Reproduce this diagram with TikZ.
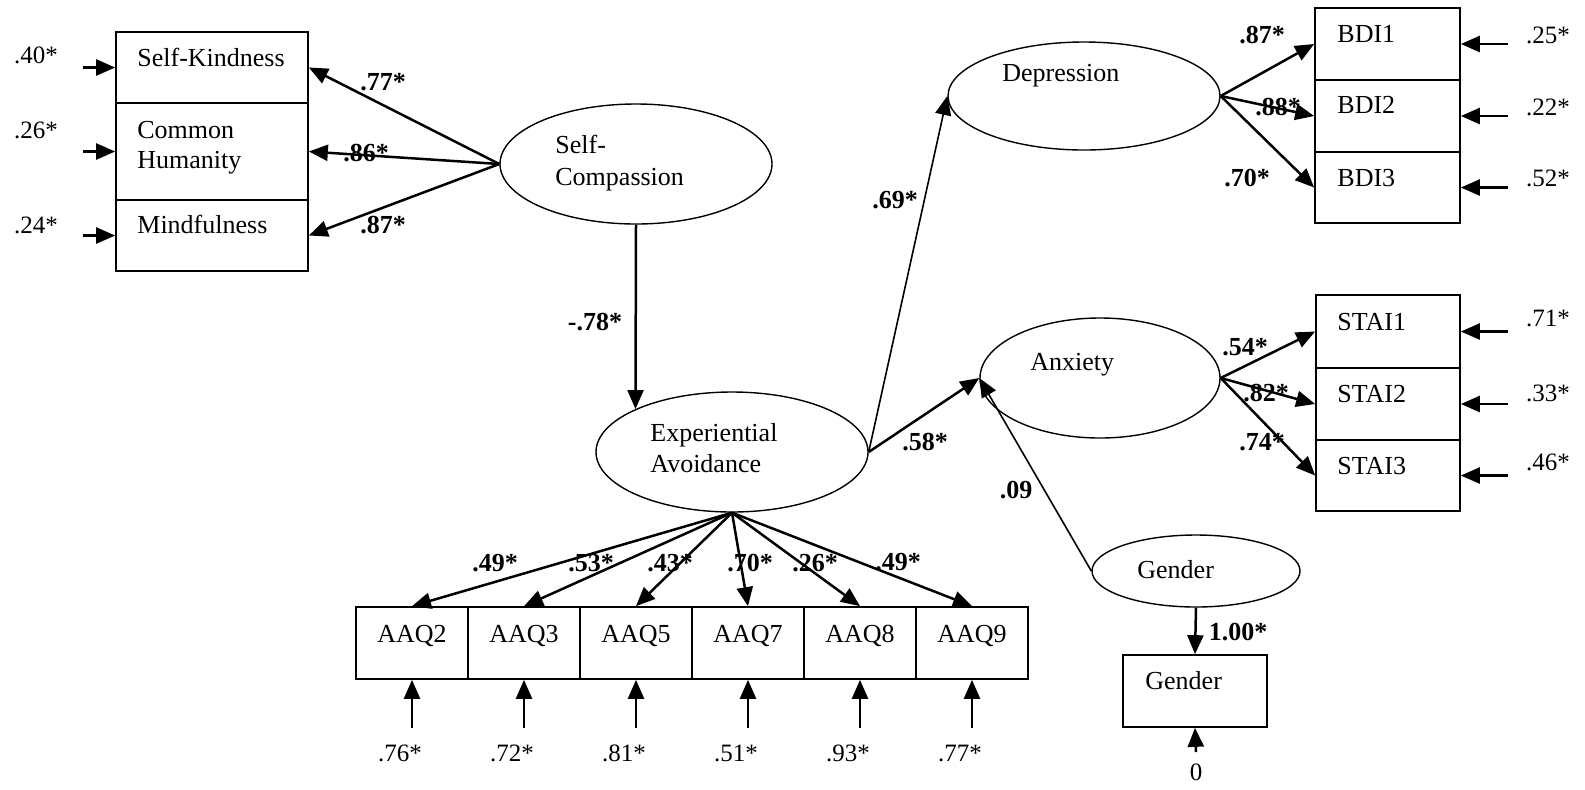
\documentclass[tikz,border=0pt]{standalone}
\usepackage{fontspec}
\setmainfont{Liberation Serif}
\usetikzlibrary{shapes.geometric,arrows.meta}

\tikzset{
  latent/.style={ellipse, draw, line width=0.7pt, inner sep=0pt},
  obsbox/.style={rectangle, draw, line width=0.85pt, inner sep=0pt},
  lbl/.style={anchor=base west, inner sep=0pt, font=\fontsize{13}{15}\selectfont},
  clbl/.style={anchor=base, inner sep=0pt, font=\fontsize{13}{15}\selectfont},
  coef/.style={inner sep=0pt, font=\fontsize{13}{15}\selectfont\bfseries},
  errv/.style={inner sep=0pt, font=\fontsize{12.5}{15}\selectfont},
  path/.style={-{Triangle[length=9.5pt,width=8pt]}, line width=1.25pt},
  thinpath/.style={-{Triangle[length=9.5pt,width=8pt]}, line width=0.8pt},
}

\begin{document}
\begin{tikzpicture}[x=0.5pt, y=-0.5pt]
\useasboundingbox (0,0) rectangle (1585,789);

% ---- Self-Compassion indicators
\node[obsbox, minimum width=96pt, minimum height=35.5pt] (sk) at (212,67.5) {};
\node[obsbox, minimum width=96pt, minimum height=48.5pt] (ch) at (212,151.5) {};
\node[obsbox, minimum width=96pt, minimum height=35.5pt] (mf) at (212,235.5) {};
\node[lbl] (skT) at (137,66) {Self-Kindness};
\node[lbl] (chT1) at (137,138) {Common};
\node[lbl] (chT2) at (137,168) {Humanity};
\node[lbl] (mfT) at (137,233) {Mindfulness};

\coordinate (esk) at (83,67.5);
\coordinate (ech) at (83,151.5);
\coordinate (emf) at (83,235.5);
\draw[path] (esk) -- (sk.west);
\draw[path] (ech) -- (ch.west);
\draw[path] (emf) -- (mf.west);
\node[errv] (eskV) at (36,55) {.40*};
\node[errv] (echV) at (36,130) {.26*};
\node[errv] (emfV) at (36,225) {.24*};

% ---- Self-Compassion
\node[latent, minimum width=136pt, minimum height=60pt] (sc) at (636,164) {};
\node[lbl] (scT1) at (555,153) {Self-};
\node[lbl] (scT2) at (555,185) {Compassion};
\draw[path] (sc.west) -- (sk.east);
\draw[path] (sc.west) -- (ch.east);
\draw[path] (sc.west) -- (mf.east);
\node[coef] (c77) at (383,82) {.77*};
\node[coef] (c86) at (366,153) {.86*};
\node[coef] (c87) at (383,225) {.87*};

% ---- Experiential Avoidance
\node[latent, minimum width=136pt, minimum height=60pt] (ea) at (732,452) {};
\node[lbl] (eaT1) at (650,441) {Experiential};
\node[lbl] (eaT2) at (650,472) {Avoidance};
\draw[path] (sc.south) -- (ea.156.4);
\node[coef] (c78) at (595,322) {-.78*};

% ---- AAQ indicators
\foreach \n/\k/\e in {2/0/.76*, 3/1/.72*, 5/2/.81*, 7/3/.51*, 8/4/.93*, 9/5/.77*}{
  \node[obsbox, minimum width=56pt, minimum height=36pt] (aaq\n) at (412+112*\k,643) {};
  \node[clbl] (aaqT\n) at (412+112*\k,642) {AAQ\n};
  \draw[path] (ea.south) -- (aaq\n.north);
  \coordinate (eaaq\n) at (412+112*\k,728);
  \draw[path] (eaaq\n) -- (aaq\n.south);
  \node[errv] (eaaqV\n) at (400+112*\k,753) {\e};
}
\node[coef] (ca2) at (495,563) {.49*};
\node[coef] (ca3) at (591,563) {.53*};
\node[coef] (ca5) at (670,563) {.43*};
\node[coef] (ca7) at (750,563) {.70*};
\node[coef] (ca8) at (815,563) {.26*};
\node[coef] (ca9) at (898,562) {.49*};

% ---- Depression
\node[latent, minimum width=136pt, minimum height=54pt] (dep) at (1084,96) {};
\node[lbl] (depT) at (1002,81) {Depression};
\draw[thinpath] (ea.east) -- (dep.west);
\node[coef] (c69) at (895,200) {.69*};

\node[obsbox, minimum width=72.5pt, minimum height=36pt] (bdi1) at (1387.5,44) {};
\node[obsbox, minimum width=72.5pt, minimum height=36pt] (bdi2) at (1387.5,116) {};
\node[obsbox, minimum width=72.5pt, minimum height=35.5pt] (bdi3) at (1387.5,187.5) {};
\node[lbl] (bdiT1) at (1337,42) {BDI1};
\node[lbl] (bdiT2) at (1337,113) {BDI2};
\node[lbl] (bdiT3) at (1337,186) {BDI3};
\draw[path] (dep.east) -- (bdi1.west);
\draw[path] (dep.east) -- (bdi2.west);
\draw[path] (dep.east) -- (bdi3.west);
\node[coef] (cb1) at (1262,35) {.87*};
\node[coef] (cb2) at (1278,107) {.88*};
\node[coef] (cb3) at (1247,178) {.70*};
\coordinate (ebdi1) at (1508,44);
\coordinate (ebdi2) at (1508,116);
\coordinate (ebdi3) at (1508,187.5);
\draw[path] (ebdi1) -- (bdi1.east);
\draw[path] (ebdi2) -- (bdi2.east);
\draw[path] (ebdi3) -- (bdi3.east);
\node[errv] (ebdiV1) at (1548,35) {.25*};
\node[errv] (ebdiV2) at (1548,107) {.22*};
\node[errv] (ebdiV3) at (1548,178) {.52*};

% ---- Anxiety
\node[latent, minimum width=120pt, minimum height=60pt] (anx) at (1100,378) {};
\node[lbl] (anxT) at (1030,370) {Anxiety};
\draw[path] (ea.east) -- (anx.west);
\node[coef] (c58) at (925,442) {.58*};

\node[obsbox, minimum width=72pt, minimum height=36.5pt] (stai1) at (1388,331.5) {};
\node[obsbox, minimum width=72pt, minimum height=36pt] (stai2) at (1388,404) {};
\node[obsbox, minimum width=72pt, minimum height=35.5pt] (stai3) at (1388,475.5) {};
\node[lbl] (staiT1) at (1337,330) {STAI1};
\node[lbl] (staiT2) at (1337,402) {STAI2};
\node[lbl] (staiT3) at (1337,474) {STAI3};
\draw[path] (anx.east) -- (stai1.west);
\draw[path] (anx.east) -- (stai2.west);
\draw[path] (anx.east) -- (stai3.west);
\node[coef] (cs1) at (1245,347) {.54*};
\node[coef] (cs2) at (1266,393) {.82*};
\node[coef] (cs3) at (1262,442) {.74*};
\coordinate (estai1) at (1508,331.5);
\coordinate (estai2) at (1508,404);
\coordinate (estai3) at (1508,475.5);
\draw[path] (estai1) -- (stai1.east);
\draw[path] (estai2) -- (stai2.east);
\draw[path] (estai3) -- (stai3.east);
\node[errv] (estaiV1) at (1548,318) {.71*};
\node[errv] (estaiV2) at (1548,393) {.33*};
\node[errv] (estaiV3) at (1548,462) {.46*};

% ---- Gender
\node[latent, minimum width=104pt, minimum height=36pt] (gen) at (1196,571) {};
\node[lbl] (genT) at (1137,578) {Gender};
\draw[thinpath] (gen.west) -- (anx.west);
\node[coef] (c09) at (1016,490) {.09};

\node[obsbox, minimum width=72pt, minimum height=36pt] (genbox) at (1195,691) {};
\node[lbl] (genboxT) at (1145,689) {Gender};
\draw[path] (gen.south) -- (genbox.north);
\node[coef] (c100) at (1238,632) {1.00*};
\coordinate (egen) at (1196,752);
\draw[path] (egen) -- (genbox.south);
\node[errv] (egenV) at (1196,772) {0};

\end{tikzpicture}
\end{document}
